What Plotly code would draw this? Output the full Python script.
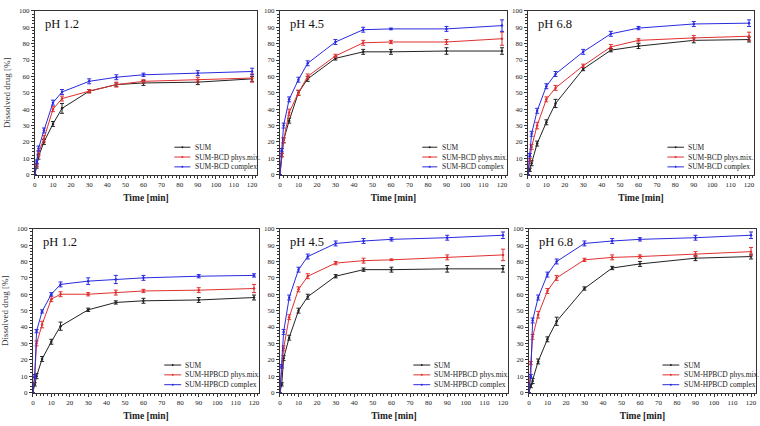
import plotly.graph_objects as go

times = [0, 1, 2, 5, 10, 15, 30, 45, 60, 90, 120]

# Top row: SUM-BCD
bcd12_sum = [0, 5, 11, 20, 31, 40.5, 51, 55, 56, 56.5, 58.5]
bcd12_phys = [0, 6, 13, 22, 40, 46.5, 51, 55, 57, 58, 59]
bcd12_cplx = [0, 8, 16, 27, 44, 50.5, 57, 59.5, 61, 62, 63]
bcd45_sum = [0, 12, 21, 33, 50, 58.5, 71, 75, 75, 75.5, 75.5]
bcd45_phys = [0, 12, 21, 38, 50, 60, 72.5, 80.5, 81, 81, 83]
bcd45_cplx = [0, 15, 30, 46, 58, 68, 81, 88.5, 89, 89, 91]
bcd68_sum = [0, 3, 7, 19, 32, 43.5, 64.5, 76, 78.5, 82, 82.5]
bcd68_phys = [0, 9, 17, 30, 46, 53, 66.5, 78, 82, 83.5, 84.5]
bcd68_cplx = [0, 12, 25, 39, 54, 61.5, 75, 86, 89.5, 92, 92.5]
# Bottom row: SUM-HPBCD
hp12_sum = [0, 5, 10, 20.5, 31, 40.5, 50.5, 55, 56, 56.5, 58]
hp12_phys = [0, 10, 30, 41.5, 57, 60, 60, 61, 62, 62.5, 63.5]
hp12_cplx = [0, 10, 37.5, 49.5, 60, 66, 68, 69, 70, 71, 71.5]
hp45_sum = [0, 5, 21, 33.5, 50, 58.5, 71, 75, 75, 75.5, 75.5]
hp45_phys = [0, 16, 27, 46, 63, 71, 79, 80.5, 81, 82.5, 84]
hp45_cplx = [0, 16, 37, 58, 75, 83, 91, 92.5, 93.5, 94.5, 96]
hp68_sum = [0, 4, 7, 19, 32.5, 43.5, 63.5, 76, 78.5, 82, 83]
hp68_phys = [0, 18, 34, 47.5, 62, 70, 81, 82.5, 83, 84.5, 86]
hp68_cplx = [0, 10, 44, 58, 72, 80, 91, 92.5, 93.5, 94.5, 96]

# error bars (SD), typical
err_sum = [0, 1, 1.5, 1.5, 1.5, 2.5, 1, 1, 1.5, 1.5, 1.5]
err_phys = [0, 1, 1.5, 2, 1.5, 1.5, 1, 1.5, 1, 1.5, 2.5]
err_cplx = [0, 1, 1.5, 1.5, 1.5, 1.5, 1.5, 1.5, 1, 1.5, 2]
# error bars that are noticeably larger in some panels
bcd12_sum_err = [0, 1, 1.5, 1.5, 1.5, 3, 1, 1, 1.5, 1.5, 1.5]
bcd45_phys_err = [0, 1, 1.5, 2, 1.5, 1.5, 1, 1.5, 1, 1.5, 4]
bcd45_cplx_err = [0, 1, 1.5, 1.5, 1.5, 1.5, 1.5, 1.5, 0.5, 1.5, 3.5]
bcd45_sum_err = [0, 1, 1.5, 1.5, 1.5, 1.5, 1, 1.5, 1.5, 2, 2]
hp45_phys_err = [0, 1, 1.5, 1.5, 1.5, 1.5, 1, 1.5, 0.5, 1.5, 3.5]
hp45_sum_err = [0, 1, 1.5, 1.5, 1.5, 1.5, 1, 1, 1.5, 2, 2]
hp12_cplx_err = [0, 1, 1, 1, 1, 1.5, 2, 2.5, 1.5, 1, 1]

panel_titles = ["pH 1.2", "pH 4.5", "pH 6.8", "pH 1.2", "pH 4.5", "pH 6.8"]
names_top = ["SUM", "SUM-BCD phys.mix.", "SUM-BCD complex"]
names_bot = ["SUM", "SUM-HPBCD phys.mix.", "SUM-HPBCD complex"]
panels = [
    (bcd12_sum, bcd12_phys, bcd12_cplx, names_top, [bcd12_sum_err, err_phys, err_cplx]),
    (bcd45_sum, bcd45_phys, bcd45_cplx, names_top, [bcd45_sum_err, bcd45_phys_err, bcd45_cplx_err]),
    (bcd68_sum, bcd68_phys, bcd68_cplx, names_top, [err_sum, err_phys, err_cplx]),
    (hp12_sum, hp12_phys, hp12_cplx, names_bot, [err_sum, err_phys, hp12_cplx_err]),
    (hp45_sum, hp45_phys, hp45_cplx, names_bot, [hp45_sum_err, hp45_phys_err, err_cplx]),
    (hp68_sum, hp68_phys, hp68_cplx, names_bot, [err_sum, err_phys, err_cplx]),
]
colors = ["#222222", "#e03030", "#2a2ae0"]

W, H = 760, 426
# pixel boxes (x0, x1, ytop, ybottom)
boxes = [
    (33, 256, 7, 174), (279, 507, 7, 174), (528, 755, 7, 174),
    (31, 258, 229, 396), (279, 508, 229, 396), (529, 757, 229, 396),
]
# legend line start/end (domain fraction) per panel
leg_x = [(0.628, 0.70), (0.627, 0.693), (0.617, 0.69),
         (0.581, 0.656), (0.585, 0.659), (0.588, 0.662)]
leg_rows = [0.168, 0.108, 0.048]
FONT = "Times New Roman, Liberation Serif, serif"

fig = go.Figure()
layout = dict(width=W, height=H, margin=dict(l=0, r=0, t=0, b=0),
              paper_bgcolor="white", plot_bgcolor="white", showlegend=False,
              font=dict(family=FONT, color="#222"), annotations=[], shapes=[])

for i, (s, p, c, names, errs) in enumerate(panels):
    k = i + 1
    xa = "x" if k == 1 else f"x{k}"
    ya = "y" if k == 1 else f"y{k}"
    for j, vals in enumerate([s, p, c]):
        fig.add_trace(go.Scatter(
            x=times, y=vals, mode="lines+markers", name=names[j],
            line=dict(color=colors[j], width=1),
            marker=dict(color=colors[j], size=2.5),
            error_y=dict(type="data", array=errs[j], color=colors[j], thickness=1, width=2),
            xaxis=xa, yaxis=ya))
    x0, x1, yt, yb = boxes[i]
    axname = "xaxis" if k == 1 else f"xaxis{k}"
    ayname = "yaxis" if k == 1 else f"yaxis{k}"
    common = dict(showline=True, linecolor="#333", linewidth=1, mirror=True,
                  ticks="outside", ticklen=3, tickcolor="#333", showgrid=False,
                  zeroline=False, tickfont=dict(family=FONT, size=7, color="#222"),
                  minor=dict(ticks="outside", ticklen=2, tickcolor="#333"))
    layout[axname] = dict(domain=[x0 / W, x1 / W], range=[0, 122.7], dtick=10,
                          anchor=ya, title=dict(text="<b>Time [min]</b>",
                          font=dict(family=FONT, size=9.5, color="#222"), standoff=6),
                          **common)
    yax = dict(domain=[1 - yb / H, 1 - yt / H], range=[0, 100], dtick=10,
               anchor=xa, **common)
    if k in (1, 4):
        yax["title"] = dict(text="Dissolved drug [%]",
                            font=dict(family=FONT, size=9, color="#333"), standoff=6)
    layout[ayname] = yax
    layout["annotations"].append(dict(
        text=panel_titles[i], xref=f"{xa} domain", yref=f"{ya} domain",
        x=0.035, y=0.92, xanchor="left", yanchor="middle", showarrow=False,
        font=dict(family=FONT, size=12.5, color="#111")))
    lx0, lx1 = leg_x[i]
    for j in range(3):
        ry = leg_rows[j]
        layout["shapes"].append(dict(
            type="line", xref=f"{xa} domain", yref=f"{ya} domain",
            x0=lx0, x1=lx1, y0=ry, y1=ry, line=dict(color=colors[j], width=1)))
        layout["shapes"].append(dict(
            type="circle", xref=f"{xa} domain", yref=f"{ya} domain",
            xsizemode="pixel", ysizemode="pixel",
            xanchor=(lx0 + lx1) / 2, yanchor=ry, x0=-1, x1=1, y0=-1, y1=1,
            fillcolor=colors[j], line=dict(color=colors[j], width=0)))
        layout["annotations"].append(dict(
            text=names[j], xref=f"{xa} domain", yref=f"{ya} domain",
            x=lx1 + 0.01, y=ry, xanchor="left", yanchor="middle", showarrow=False,
            font=dict(family=FONT, size=7.5, color="#222")))

fig.update_layout(**layout)
fig.write_html("out.html", post_script="document.body.style.margin='0';",
               config={"displayModeBar": False})
